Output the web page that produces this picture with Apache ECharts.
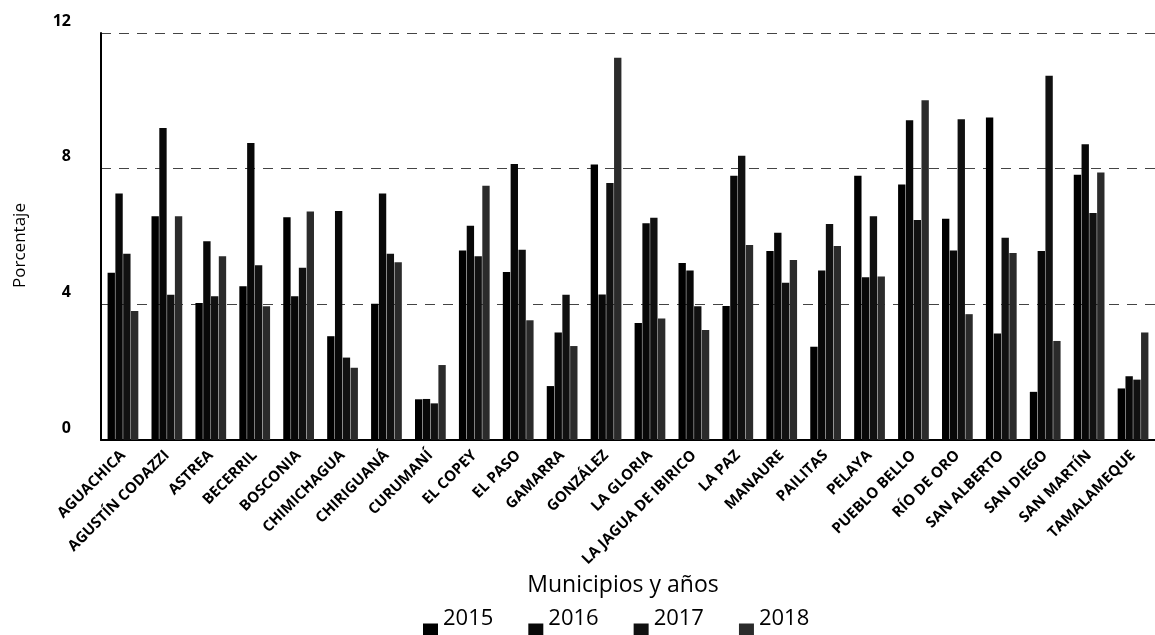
<!DOCTYPE html>
<html>
<head>
<meta charset="utf-8">
<script src="https://cdn.jsdelivr.net/npm/echarts@6/dist/echarts.min.js"></script>
<style>
  html, body { margin: 0; padding: 0; background: #fff; }
  #chart { width: 1155px; height: 635px; }
</style>
</head>
<body>
<div id="chart"></div>
<script>
/* ---------- datos ---------- */
const municipios = [
  'AGUACHICA', 'AGUSTÍN CODAZZI', 'ASTREA', 'BECERRIL', 'BOSCONIA', 'CHIMICHAGUA',
  'CHIRIGUANÁ', 'CURUMANÍ', 'EL COPEY', 'EL PASO', 'GAMARRA', 'GONZÁLEZ',
  'LA GLORIA', 'LA JAGUA DE IBIRICO', 'LA PAZ', 'MANAURE', 'PAILITAS', 'PELAYA',
  'PUEBLO BELLO', 'RÍO DE ORO', 'SAN ALBERTO', 'SAN DIEGO', 'SAN MARTÍN', 'TAMALAMEQUE'
];
const anios = ['2015', '2016', '2017', '2018'];
const v2015 = [4.93, 6.60, 4.04, 4.53, 6.57, 3.06, 4.02, 1.20, 5.59, 4.95, 1.59, 8.12, 3.45, 5.22, 3.95, 5.57, 2.75, 7.79, 7.53, 6.52, 9.51, 1.42, 7.82, 1.52];
const v2016 = [7.27, 9.20, 5.86, 8.76, 4.24, 6.75, 7.27, 1.21, 6.32, 8.14, 3.17, 4.29, 6.39, 5.00, 7.79, 6.11, 5.00, 4.80, 9.43, 5.59, 3.14, 5.57, 8.72, 1.88];
const v2017 = [5.49, 4.28, 4.24, 5.15, 5.08, 2.43, 5.49, 1.08, 5.42, 5.61, 4.28, 7.58, 6.55, 3.94, 8.38, 4.64, 6.37, 6.60, 6.49, 9.46, 5.96, 10.74, 6.69, 1.78];
const v2018 = [3.80, 6.60, 5.42, 3.94, 6.74, 2.13, 5.24, 2.21, 7.50, 3.53, 2.77, 11.27, 3.58, 3.24, 5.75, 5.31, 5.72, 4.82, 10.02, 3.71, 5.51, 2.92, 7.89, 3.17];
const yTicks = [0, 4, 8, 12];

/* ---------- gráfico ---------- */
const chart = echarts.init(document.getElementById('chart'));
const valores = [v2015, v2016, v2017, v2018];
const colores = ['#000000', '#080808', '#111111', '#2b2b2b'];
const fuente = '"Open Sans", "Liberation Sans", sans-serif';

const series = anios.map((a, i) => ({
  name: a,
  type: 'bar',
  data: valores[i],
  barCategoryGap: '30%',
  barGap: '6%',
  itemStyle: { color: colores[i] },
}));

chart.setOption({
  animation: false,
  textStyle: { fontFamily: fuente },
  grid: { left: 101, right: -8, top: 33, bottom: 195, containLabel: false },
  legend: {
    data: anios,
    left: 418,
    top: 603,
    itemGap: 35,
    itemWidth: 15,
    itemHeight: 13,
    icon: 'rect',
    formatter: '{t|{name}}',
    textStyle: {
      color: '#000',
      rich: { t: { fontSize: 22, color: '#000', fontFamily: fuente, padding: [0, 0, 22, 0] } },
    },
  },
  xAxis: {
    type: 'category',
    data: municipios,
    name: 'Municipios y años',
    nameLocation: 'middle',
    nameGap: 126,
    nameTextStyle: { fontSize: 23, color: '#000', padding: [0, 10, 0, 0] },
    axisLine: { lineStyle: { color: '#000', width: 2 } },
    axisTick: { show: false },
    axisLabel: {
      rotate: 45,
      interval: 0,
      margin: 13,
      fontSize: 15,
      color: '#000',
      fontWeight: 'bold',
    },
  },
  yAxis: {
    type: 'value',
    min: yTicks[0],
    max: yTicks[yTicks.length - 1],
    interval: 4,
    name: 'Porcentaje',
    nameLocation: 'middle',
    nameGap: 72,
    nameTextStyle: { fontSize: 17, color: '#000', padding: [0, 18, 0, 0] },
    axisLine: { show: true, lineStyle: { color: '#000', width: 2 } },
    axisTick: { show: false },
    axisLabel: {
      fontSize: 16,
      fontWeight: 'bold',
      color: '#000',
      margin: 30,
      verticalAlign: 'bottom',
      padding: [0, 0, 4, 0],
    },
    splitLine: { show: true, lineStyle: { color: '#444', type: [10, 8], width: 1 } },
  },
  series,
});
</script>
</body>
</html>
